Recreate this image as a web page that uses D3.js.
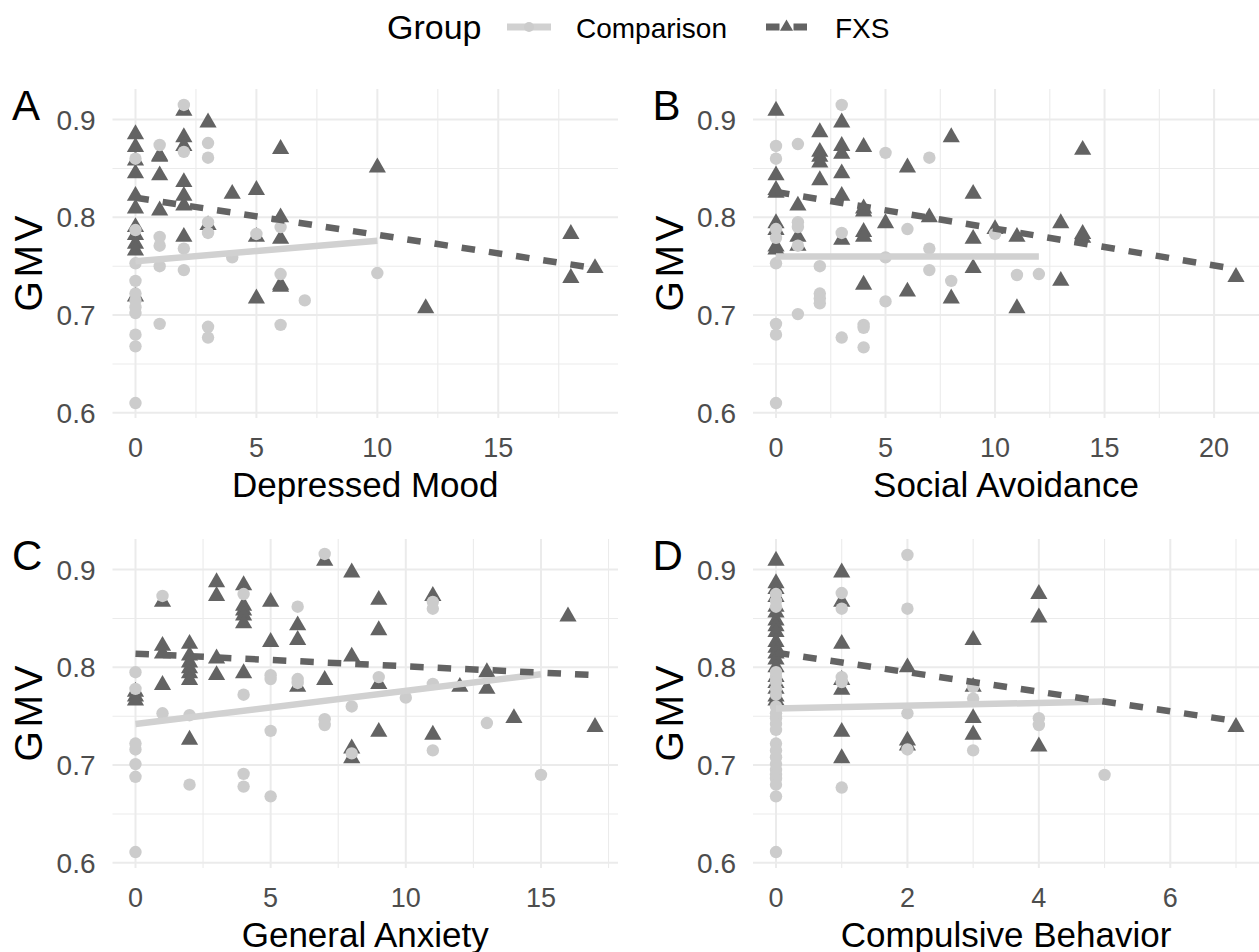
<!DOCTYPE html>
<html>
<head>
<meta charset="utf-8">
<script src="https://cdn.jsdelivr.net/npm/d3@7"></script>
<style>
  body { margin: 0; background: #fff; }
  text { font-family: "Liberation Sans", Arial, Helvetica, sans-serif; }
</style>
</head>
<body>
<div id="vis"></div>
<script>
// [score, GMV] pairs
const moodComparison = [
  [0,0.860],[0,0.787],[0,0.753],[0,0.735],[0,0.722],[0,0.715],[0,0.708],[0,0.702],[0,0.680],[0,0.668],[0,0.610],
  [1,0.874],[1,0.780],[1,0.771],[1,0.750],[1,0.691],
  [2,0.915],[2,0.867],[2,0.768],[2,0.746],
  [3,0.876],[3,0.861],[3,0.795],[3,0.784],[3,0.688],[3,0.677],
  [4,0.759],[5,0.783],[6,0.790],[6,0.742],[6,0.690],[7,0.715],[10,0.743]
];
const moodFXS = [
  [0,0.885],[0,0.872],[0,0.858],[0,0.845],[0,0.822],[0,0.809],[0,0.790],[0,0.782],[0,0.773],[0,0.766],[0,0.719],
  [1,0.863],[1,0.862],[1,0.843],[1,0.807],
  [2,0.909],[2,0.882],[2,0.873],[2,0.836],[2,0.822],[2,0.812],[2,0.780],
  [3,0.897],[3,0.792],[4,0.824],[5,0.828],[5,0.780],[5,0.717],
  [6,0.870],[6,0.800],[6,0.778],[6,0.731],[6,0.729],
  [10,0.851],[12,0.707],[18,0.783],[18,0.738],[19,0.748]
];

const avoidComparison = [
  [0,0.873],[0,0.860],[0,0.788],[0,0.779],[0,0.753],[0,0.691],[0,0.680],[0,0.610],
  [1,0.875],[1,0.795],[1,0.790],[1,0.771],[1,0.701],
  [2,0.750],[2,0.722],[2,0.717],[2,0.712],
  [3,0.915],[3,0.784],[3,0.677],
  [4,0.690],[4,0.687],[4,0.667],
  [5,0.866],[5,0.759],[5,0.714],
  [6,0.788],[7,0.861],[7,0.768],[7,0.746],[8,0.735],
  [10,0.783],[11,0.741],[12,0.742]
];
const avoidFXS = [
  [0,0.909],[0,0.843],[0,0.828],[0,0.825],[0,0.794],[0,0.787],[0,0.770],[0,0.767],
  [1,0.812],[1,0.780],[1,0.771],
  [2,0.887],[2,0.867],[2,0.862],[2,0.856],[2,0.838],
  [3,0.897],[3,0.873],[3,0.865],[3,0.845],[3,0.822],[3,0.777],
  [4,0.872],[4,0.809],[4,0.806],[4,0.785],[4,0.780],[4,0.731],
  [5,0.794],[6,0.851],[6,0.724],[7,0.800],[8,0.882],[8,0.717],
  [9,0.824],[9,0.778],[9,0.748],[10,0.788],[11,0.780],[11,0.707],
  [13,0.794],[13,0.735],[14,0.869],[14,0.783],[14,0.779],[21,0.739]
];

const anxietyComparison = [
  [0,0.795],[0,0.778],[0,0.722],[0,0.716],[0,0.701],[0,0.688],[0,0.611],
  [1,0.873],[1,0.753],[2,0.751],[2,0.680],
  [4,0.875],[4,0.772],[4,0.691],[4,0.678],
  [5,0.792],[5,0.788],[5,0.735],[5,0.668],
  [6,0.862],[6,0.788],[6,0.784],
  [7,0.916],[7,0.747],[7,0.741],[8,0.760],[8,0.712],[9,0.790],[10,0.769],
  [11,0.867],[11,0.860],[11,0.783],[11,0.715],[13,0.743],[15,0.690]
];
const anxietyFXS = [
  [0,0.775],[0,0.770],[0,0.766],
  [1,0.867],[1,0.822],[1,0.814],[1,0.782],
  [2,0.824],[2,0.812],[2,0.805],[2,0.799],[2,0.794],[2,0.787],[2,0.726],
  [3,0.887],[3,0.873],[3,0.809],[3,0.792],
  [4,0.884],[4,0.863],[4,0.858],[4,0.853],[4,0.845],[4,0.794],
  [5,0.867],[5,0.826],[6,0.843],[6,0.828],[6,0.780],[7,0.909],[7,0.787],
  [8,0.897],[8,0.811],[8,0.717],[8,0.707],
  [9,0.869],[9,0.838],[9,0.783],[9,0.734],
  [11,0.873],[11,0.731],[12,0.780],[13,0.795],[13,0.778],[14,0.748],[16,0.852],[17,0.739]
];

const compulsiveComparison = [
  [0,0.875],[0,0.868],[0,0.862],[0,0.795],[0,0.790],[0,0.785],[0,0.778],[0,0.772],[0,0.760],[0,0.753],
  [0,0.748],[0,0.742],[0,0.736],[0,0.722],[0,0.715],[0,0.708],[0,0.701],[0,0.695],[0,0.690],[0,0.686],
  [0,0.680],[0,0.668],[0,0.611],
  [1,0.876],[1,0.860],[1,0.790],[1,0.785],[1,0.677],
  [2,0.915],[2,0.860],[2,0.753],[2,0.716],
  [3,0.780],[3,0.768],[3,0.715],[4,0.748],[4,0.741],[5,0.690]
];
const compulsiveFXS = [
  [0,0.909],[0,0.886],[0,0.880],[0,0.872],[0,0.862],[0,0.856],[0,0.848],[0,0.842],[0,0.836],[0,0.826],
  [0,0.820],[0,0.814],[0,0.808],[0,0.800],[0,0.790],[0,0.784],[0,0.778],[0,0.770],[0,0.766],
  [1,0.897],[1,0.867],[1,0.824],[1,0.787],[1,0.777],[1,0.734],[1,0.707],
  [2,0.800],[2,0.725],[2,0.720],
  [3,0.828],[3,0.780],[3,0.748],[3,0.731],
  [4,0.875],[4,0.851],[4,0.719],[7,0.739]
];

// fitted GMV at the lowest and highest score of each group
const fitComparison = [[0.755, 0.776], [0.760, 0.760], [0.742, 0.793], [0.758, 0.765]];
const fitFXS = [[0.820, 0.748], [0.826, 0.747], [0.814, 0.792], [0.815, 0.745]];

const panelLabels = ["A", "B", "C", "D"];
const axisTitles = ["Depressed Mood", "Social Avoidance", "General Anxiety", "Compulsive Behavior"];
const xTickValues = [[0, 5, 10, 15], [0, 5, 10, 15, 20], [0, 5, 10, 15], [0, 2, 4, 6]];
const yTickValues = [0.6, 0.7, 0.8, 0.9];
const groups = ["Comparison", "FXS"];

const width = 1259, height = 952;
const compColor = "#cccccc", compLine = "#d1d1d1", fxsColor = "#636363";
const gridColor = "#ebebeb";

const svg = d3.select("#vis").append("svg")
    .attr("width", width)
    .attr("height", height);

const allPoints = [moodComparison, moodFXS, avoidComparison, avoidFXS,
  anxietyComparison, anxietyFXS, compulsiveComparison, compulsiveFXS].flat();
const yExt = d3.extent(allPoints, d => d[1]);
const yPad = (yExt[1] - yExt[0]) * 0.05;

const panels = [
  { comp: moodComparison, fxs: moodFXS, left: 112.5, right: 618, top: 89, bottom: 418 },
  { comp: avoidComparison, fxs: avoidFXS, left: 753, right: 1259, top: 89, bottom: 418 },
  { comp: anxietyComparison, fxs: anxietyFXS, left: 112.5, right: 618, top: 539, bottom: 868 },
  { comp: compulsiveComparison, fxs: compulsiveFXS, left: 753, right: 1259, top: 539, bottom: 868 }
];

const triangle = d3.symbol().type(d3.symbolTriangle).size(128);
const smallTriangle = d3.symbol().type(d3.symbolTriangle).size(75);

panels.forEach((p, i) => {
  const xExt = d3.extent(p.comp.concat(p.fxs), d => d[0]);
  const xPad = (xExt[1] - xExt[0]) * 0.05;
  const x = d3.scaleLinear().domain([xExt[0] - xPad, xExt[1] + xPad]).range([p.left, p.right]);
  const y = d3.scaleLinear().domain([yExt[0] - yPad, yExt[1] + yPad]).range([p.bottom, p.top]);

  const g = svg.append("g");

  // minor grid
  const xt = xTickValues[i];
  const xStep = xt[1] - xt[0];
  const xMinor = xt.map(t => t + xStep / 2).filter(v => v <= x.domain()[1]);
  const yMinor = yTickValues.map(t => t + 0.05).filter(v => v <= y.domain()[1]);
  g.selectAll(".xminor").data(xMinor).enter().append("line")
      .attr("x1", d => x(d)).attr("x2", d => x(d))
      .attr("y1", p.top).attr("y2", p.bottom)
      .attr("stroke", gridColor).attr("stroke-width", 1.1);
  g.selectAll(".yminor").data(yMinor).enter().append("line")
      .attr("x1", p.left).attr("x2", p.right)
      .attr("y1", d => y(d)).attr("y2", d => y(d))
      .attr("stroke", gridColor).attr("stroke-width", 1.1);

  // major grid
  g.selectAll(".xmajor").data(xt).enter().append("line")
      .attr("x1", d => x(d)).attr("x2", d => x(d))
      .attr("y1", p.top).attr("y2", p.bottom)
      .attr("stroke", gridColor).attr("stroke-width", 2);
  g.selectAll(".ymajor").data(yTickValues).enter().append("line")
      .attr("x1", p.left).attr("x2", p.right)
      .attr("y1", d => y(d)).attr("y2", d => y(d))
      .attr("stroke", gridColor).attr("stroke-width", 2);

  // tick labels
  g.selectAll(".xlab").data(xt).enter().append("text")
      .attr("x", d => x(d)).attr("y", p.bottom + 39)
      .attr("text-anchor", "middle")
      .attr("font-size", 27).attr("fill", "#4d4d4d")
      .text(d => d);
  g.selectAll(".ylab").data(yTickValues).enter().append("text")
      .attr("x", p.left - 17).attr("y", d => y(d) + 10)
      .attr("text-anchor", "end")
      .attr("font-size", 28).attr("fill", "#4d4d4d")
      .text(d3.format(".1f"));

  // axis titles
  g.append("text")
      .attr("x", (p.left + p.right) / 2).attr("y", p.bottom + 79)
      .attr("text-anchor", "middle").attr("font-size", 35).attr("fill", "#000")
      .text(axisTitles[i]);
  const gmvX = p.left - 70.5, gmvY = (p.top + p.bottom) / 2 + 10;
  g.append("text")
      .attr("transform", "translate(" + gmvX + "," + gmvY + ") rotate(-90)")
      .attr("text-anchor", "middle").attr("font-size", 39).attr("fill", "#000")
      .attr("textLength", 96).attr("lengthAdjust", "spacing")
      .text("GMV");
  g.append("text")
      .attr("x", p.left - 100.5).attr("y", p.top + 31)
      .attr("font-size", 42).attr("fill", "#000")
      .text(panelLabels[i]);

  // points: triangles first, circles above
  g.selectAll(".fxs").data(p.fxs).enter().append("path")
      .attr("d", triangle)
      .attr("transform", d => "translate(" + x(d[0]) + "," + y(d[1]) + ")")
      .attr("fill", fxsColor);
  g.selectAll(".comp").data(p.comp).enter().append("circle")
      .attr("cx", d => x(d[0])).attr("cy", d => y(d[1])).attr("r", 6.2)
      .attr("fill", compColor);

  // fitted lines across each group's score range
  const line = d3.line().x(d => x(d[0])).y(d => y(d[1]));
  const cExt = d3.extent(p.comp, d => d[0]);
  const fExt = d3.extent(p.fxs, d => d[0]);
  g.append("path")
      .attr("d", line([[cExt[0], fitComparison[i][0]], [cExt[1], fitComparison[i][1]]]))
      .attr("stroke", compLine).attr("stroke-width", 6.5).attr("fill", "none");
  g.append("path")
      .attr("d", line([[fExt[0], fitFXS[i][0]], [fExt[1], fitFXS[i][1]]]))
      .attr("stroke", fxsColor).attr("stroke-width", 6.5).attr("fill", "none")
      .attr("stroke-dasharray", "13.5,14");
});

// legend
const legend = svg.append("g");
legend.append("text").attr("x", 387).attr("y", 39).attr("font-size", 34).text("Group");
legend.append("line").attr("x1", 507).attr("x2", 551).attr("y1", 27).attr("y2", 27)
    .attr("stroke", compLine).attr("stroke-width", 7);
legend.append("circle").attr("cx", 529).attr("cy", 27).attr("r", 5).attr("fill", compColor);
legend.append("text").attr("x", 576).attr("y", 38).attr("font-size", 28).text(groups[0]);
legend.append("line").attr("x1", 766).attr("x2", 807).attr("y1", 27).attr("y2", 27)
    .attr("stroke", fxsColor).attr("stroke-width", 7).attr("stroke-dasharray", "13.5,14");
legend.append("path").attr("d", smallTriangle)
    .attr("transform", "translate(786.5,27)").attr("fill", fxsColor);
legend.append("text").attr("x", 835).attr("y", 38).attr("font-size", 28).text(groups[1]);
</script>
</body>
</html>
